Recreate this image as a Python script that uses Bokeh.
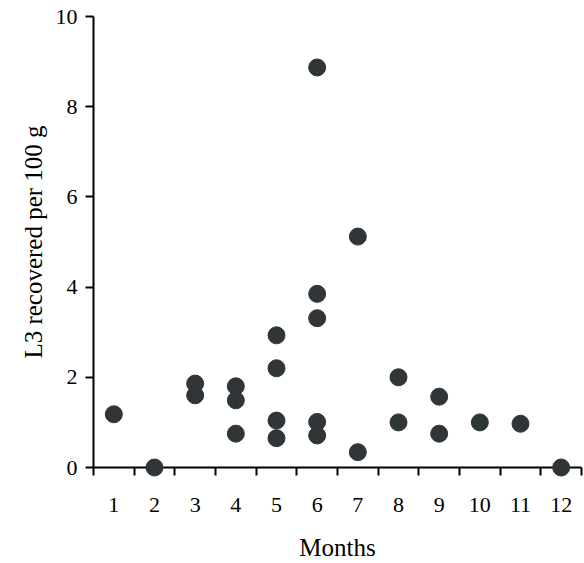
from bokeh.plotting import figure
from bokeh.models import Range1d, FixedTicker
from bokeh.embed import file_html
from bokeh.resources import INLINE

# Data
months = [1, 2, 3, 3, 4, 4, 4, 5, 5, 5, 5, 6, 6, 6, 6, 6, 7, 7, 8, 8, 9, 9, 10, 11, 12]
values = [1.18, 0.0, 1.86, 1.60, 1.80, 1.49, 0.75, 2.93, 2.20, 1.04, 0.65,
          8.87, 3.85, 3.31, 1.01, 0.71, 5.12, 0.34, 2.00, 1.00, 1.57, 0.75,
          1.00, 0.97, 0.0]
x_ticks = [1, 2, 3, 4, 5, 6, 7, 8, 9, 10, 11, 12]
x_bounds = [0.5, 1.5, 2.5, 3.5, 4.5, 5.5, 6.5, 7.5, 8.5, 9.5, 10.5, 11.5, 12.5]
y_ticks = [0, 2, 4, 6, 8, 10]

FONT = "Liberation Serif"

p = figure(frame_width=488, frame_height=451,
           x_range=Range1d(0.5, 12.5), y_range=Range1d(0, 10),
           output_backend="svg", toolbar_location=None,
           min_border_left=93, min_border_top=16, min_border_right=3,
           min_border_bottom=96)
p.grid.visible = False
p.outline_line_color = None
p.background_fill_color = "white"

p.scatter(months, values, size=17, fill_color="#303538", line_color="#303538",
          level="overlay")

xa = p.xaxis[0]
xa.ticker = FixedTicker(ticks=x_ticks, minor_ticks=x_bounds)
xa.major_tick_out = 8
xa.major_tick_in = 0
xa.minor_tick_out = 8
xa.minor_tick_in = 0
xa.minor_tick_line_color = "black"
xa.minor_tick_line_width = 2
xa.major_label_standoff = 22
xa.axis_label = "Months"
xa.axis_label_standoff = 19

ya = p.yaxis[0]
ya.ticker = FixedTicker(ticks=y_ticks, minor_ticks=[])
ya.major_tick_out = 8
ya.major_tick_in = 0
ya.minor_tick_line_color = None
ya.major_label_standoff = 8
ya.axis_label = "L3 recovered per 100 g"
ya.axis_label_standoff = 6

for ax in (xa, ya):
    ax.axis_line_width = 2
    ax.axis_line_color = "black"
    ax.major_tick_line_width = 2
    ax.major_label_text_font = FONT
    ax.major_label_text_font_size = "22px"
    ax.major_label_text_color = "black"
    ax.axis_label_text_font = FONT
    ax.axis_label_text_font_size = "25px"
    ax.axis_label_text_font_style = "normal"
    ax.axis_label_text_color = "black"
xa.major_tick_line_color = None

open("out.html", "w").write(file_html(p, INLINE))
